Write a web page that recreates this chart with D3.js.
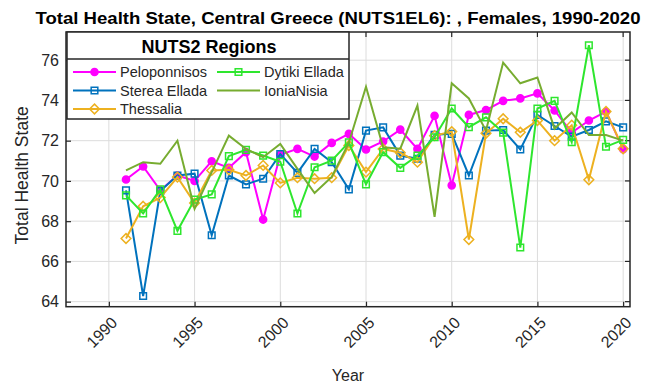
<!DOCTYPE html>
<html>
<head>
<meta charset="utf-8">
<script src="https://cdn.jsdelivr.net/npm/d3@7"></script>
<style>
  body { margin: 0; background: #fff; }
  text { font-family: "Liberation Sans", Arial, Helvetica, sans-serif; }
</style>
</head>
<body>
<div id="chart"></div>
<script>
const years = d3.range(1991, 2021);

const peloponnisos = [70.07, 70.72, 69.53, 70.27, 70.0, 70.98, 70.65, 71.43, 68.08, 71.3,
  71.59, 71.21, 71.89, 72.34, 71.56, 71.96, 72.55, 71.59, 73.24, 69.78,
  73.28, 73.52, 73.98, 74.1, 74.35, 73.5, 72.4, 73.0, 73.44, 71.58];
const stereaEllada = [69.53, 64.28, 69.5, 70.27, 70.36, 67.3, 70.27, 69.83, 70.11, 71.33,
  70.4, 71.59, 70.93, 69.58, 72.5, 72.66, 71.26, 71.1, 72.29, 72.34,
  70.27, 72.5, 72.53, 71.56, 73.28, 72.73, 72.2, 72.53, 72.96, 72.66];
const thessalia = [67.14, 68.74, 69.17, 70.19, 68.9, 70.52, 70.55, 70.27, 70.77, 69.9,
  70.16, 70.11, 70.16, 71.76, 70.44, 71.59, 71.4, 70.93, 72.25, 72.45,
  67.09, 72.37, 73.09, 72.42, 73.0, 72.0, 72.77, 70.06, 73.45, 71.6];
const dytikiEllada = [69.28, 68.38, 69.58, 67.52, 69.07, 69.33, 71.23, 71.54, 71.26, 70.95,
  68.38, 70.68, 71.01, 71.92, 69.83, 71.43, 70.65, 71.26, 72.17, 73.6,
  72.67, 73.16, 72.4, 66.69, 73.6, 73.98, 71.92, 76.74, 71.7, 72.04];
const ioniaNisia = [70.52, 70.93, 70.85, 72.0, 68.62, 70.44, 72.25, 71.59, 71.18, 71.84,
  70.6, 69.4, 70.2, 71.9, 74.68, 71.67, 71.6, 73.74, 68.21, 74.85,
  74.1, 72.5, 75.88, 74.85, 75.14, 72.6, 73.4, 72.28, 72.28, 72.0];

const xTicks = [1990, 1995, 2000, 2005, 2010, 2015, 2020];
const yTicks = [64, 66, 68, 70, 72, 74, 76];

const series = [
  { name: "Peloponnisos", values: peloponnisos, color: "#ff00ff", marker: "circle" },
  { name: "Sterea Ellada", values: stereaEllada, color: "#0072bd", marker: "square" },
  { name: "Thessalia", values: thessalia, color: "#edb120", marker: "diamond" },
  { name: "Dytiki Ellada", values: dytikiEllada, color: "#2ee62e", marker: "square" },
  { name: "IoniaNisia", values: ioniaNisia, color: "#77ac30", marker: "none" }
];

const width = 671, height = 385;
const plot = { left: 66, right: 630, top: 32, bottom: 306.7 };

const svg = d3.select("#chart").append("svg")
  .attr("width", width)
  .attr("height", height);

const x = d3.scaleLinear().domain([1987.5, 2020.4]).range([plot.left, plot.right]);
const y = d3.scaleLinear().domain([63.75, 77.4]).range([plot.bottom, plot.top]);

// grid
svg.append("g").selectAll("line.vg")
  .data(xTicks).enter().append("line")
  .attr("x1", d => x(d)).attr("x2", d => x(d))
  .attr("y1", plot.top).attr("y2", plot.bottom)
  .attr("stroke", "#dcdcdc").attr("stroke-width", 1);
svg.append("g").selectAll("line.hg")
  .data(yTicks).enter().append("line")
  .attr("x1", plot.left).attr("x2", plot.right)
  .attr("y1", d => y(d)).attr("y2", d => y(d))
  .attr("stroke", "#dcdcdc").attr("stroke-width", 1);

// axes (ticks inside, matlab style)
const xAxis = svg.append("g")
  .attr("transform", `translate(0,${plot.bottom})`)
  .call(d3.axisBottom(x).tickValues(xTicks).tickSizeInner(-5).tickSizeOuter(0).tickFormat(d3.format("d")));
xAxis.select(".domain").remove();
xAxis.selectAll("line").attr("stroke", "#262626").attr("stroke-width", 1.2);
xAxis.selectAll("text")
  .attr("font-size", 16)
  .attr("fill", "#262626")
  .attr("text-anchor", "end")
  .attr("dy", null)
  .attr("y", 0)
  .attr("transform", "translate(9,17) rotate(-45)");

const yAxis = svg.append("g")
  .attr("transform", `translate(${plot.left},0)`)
  .call(d3.axisLeft(y).tickValues(yTicks).tickSizeInner(-5).tickSizeOuter(0));
yAxis.select(".domain").remove();
yAxis.selectAll("line").attr("stroke", "#262626").attr("stroke-width", 1.2);
yAxis.selectAll("text").attr("font-size", 16).attr("fill", "#262626").attr("x", -7);

// right/top ticks
svg.append("g").selectAll("line")
  .data(yTicks).enter().append("line")
  .attr("x1", plot.right - 5).attr("x2", plot.right)
  .attr("y1", d => y(d)).attr("y2", d => y(d))
  .attr("stroke", "#262626").attr("stroke-width", 1.2);
svg.append("g").selectAll("line")
  .data(xTicks).enter().append("line")
  .attr("x1", d => x(d)).attr("x2", d => x(d))
  .attr("y1", plot.top).attr("y2", plot.top + 5)
  .attr("stroke", "#262626").attr("stroke-width", 1.2);

// lines
const line = d3.line().x((d, i) => x(years[i])).y(d => y(d));

const symbolFor = {
  circle: d3.symbol().type(d3.symbolCircle).size(40),
  square: d3.symbol().type(d3.symbolSquare).size(44),
  diamond: d3.symbol().type(d3.symbolDiamond2).size(60)
};

function drawMarker(g, s, cx, cy) {
  if (s.marker === "none") return;
  g.append("path")
    .attr("d", symbolFor[s.marker]())
    .attr("transform", `translate(${cx},${cy})`)
    .attr("fill", s.marker === "circle" ? s.color : "none")
    .attr("stroke", s.color)
    .attr("stroke-width", 1.5);
}

series.forEach(s => {
  const g = svg.append("g");
  g.append("path")
    .datum(s.values)
    .attr("d", line)
    .attr("fill", "none")
    .attr("stroke", s.color)
    .attr("stroke-width", 2);
  s.values.forEach((v, i) => drawMarker(g, s, x(years[i]), y(v)));
});

// axes box
svg.append("rect")
  .attr("x", plot.left).attr("y", plot.top)
  .attr("width", plot.right - plot.left).attr("height", plot.bottom - plot.top)
  .attr("fill", "none").attr("stroke", "#262626").attr("stroke-width", 1.5);

// legend
const leg = { x: 67, y: 32, w: 282, h: 87 };
const legend = svg.append("g");
legend.append("rect")
  .attr("x", leg.x).attr("y", leg.y).attr("width", leg.w).attr("height", leg.h)
  .attr("fill", "#fff").attr("stroke", "#262626").attr("stroke-width", 1.5);
legend.append("line")
  .attr("x1", leg.x).attr("x2", leg.x + leg.w)
  .attr("y1", 59).attr("y2", 59)
  .attr("stroke", "#262626").attr("stroke-width", 1.5);
legend.append("text")
  .attr("x", 209).attr("y", 53)
  .attr("text-anchor", "middle")
  .attr("font-size", 18).attr("font-weight", "bold")
  .text("NUTS2 Regions");

const legendPos = [
  { x0: 73, row: 0 }, { x0: 73, row: 1 }, { x0: 73, row: 2 },
  { x0: 217, row: 0 }, { x0: 217, row: 1 }
];
series.forEach((s, i) => {
  const p = legendPos[i];
  const ly = 72 + p.row * 18.5;
  legend.append("line")
    .attr("x1", p.x0).attr("x2", p.x0 + 43)
    .attr("y1", ly).attr("y2", ly)
    .attr("stroke", s.color).attr("stroke-width", 2);
  drawMarker(legend, s, p.x0 + 21.5, ly);
  legend.append("text")
    .attr("x", p.x0 + 47).attr("y", ly + 5)
    .attr("font-size", 14.5).attr("fill", "#262626")
    .text(s.name);
});

// titles
svg.append("text")
  .attr("x", 338).attr("y", 24)
  .attr("text-anchor", "middle")
  .attr("font-size", 17).attr("font-weight", "bold")
  .attr("textLength", 605).attr("lengthAdjust", "spacingAndGlyphs")
  .attr("fill", "#000")
  .text("Total Health State, Central Greece (NUTS1EL6): , Females, 1990-2020");

svg.append("text")
  .attr("x", 348).attr("y", 381)
  .attr("text-anchor", "middle")
  .attr("font-size", 16).attr("fill", "#262626")
  .text("Year");

svg.append("text")
  .attr("transform", `translate(28,${(plot.top + plot.bottom) / 2 + 6}) rotate(-90)`)
  .attr("text-anchor", "middle")
  .attr("font-size", 17.5).attr("fill", "#262626")
  .text("Total Health State");
</script>
</body>
</html>
